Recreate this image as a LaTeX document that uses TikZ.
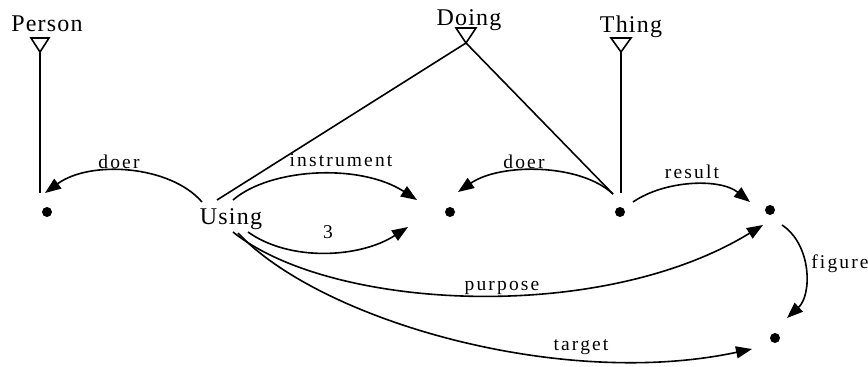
\documentclass[tikz,border=0pt]{standalone}
\usepackage{fontspec}
\setmainfont{Liberation Serif}
\newfontfamily\lblfont[LetterSpace=11]{Liberation Serif}
\newfontfamily\typfont[LetterSpace=5]{Liberation Serif}
\usetikzlibrary{arrows.meta}
\begin{document}
\begin{tikzpicture}[x=1pt,y=-1pt,
  conn/.style={line width=1.6pt},
  arr/.style={line width=1.6pt,-{Triangle[length=16pt,width=12pt]}},
  dotnode/.style={circle,fill=black,inner sep=0pt,minimum size=10pt},
  lbl/.style={anchor=base,inner sep=0pt,font=\lblfont\fontsize{19.5}{21}\selectfont},
  typ/.style={anchor=base,inner sep=0pt,font=\typfont\fontsize{24}{26}\selectfont},
  tri/.style={line width=1.6pt,fill=white}]
\useasboundingbox (0,0) rectangle (868,367);
% type labels
\node[typ] (person) at (47,31) {Person};
\node[typ] (doing) at (469,25) {Doing};
\node[typ] (thing) at (631,32) {Thing};
\node[typ] (using) at (231,224) {Using};
% dots
\node[dotnode] (dA) at (47,212) {};
\node[dotnode] (dB) at (450,212) {};
\node[dotnode] (dC) at (620,212) {};
\node[dotnode] (dD) at (770,210) {};
\node[dotnode] (dE) at (775,338) {};
% triangle apexes
\coordinate (pTri) at (40,52);
\coordinate (dTri) at (466,43);
\coordinate (tTri) at (621,52);
% attach points
\coordinate (dAtop) at (40,193);
\coordinate (dAin) at (45,193);
\coordinate (uL) at (202,202);
\coordinate (uT) at (217,200);
\coordinate (uR) at (233,200);
\coordinate (uB1) at (248,232);
\coordinate (uB2) at (233,232);
\coordinate (uB3) at (238,233);
\coordinate (dBin1) at (417,200);
\coordinate (dBin2) at (408,227);
\coordinate (dBin3) at (458,192);
\coordinate (dCtop) at (621,193);
\coordinate (dCl) at (613,194);
\coordinate (dCr) at (633,202);
\coordinate (dDin1) at (750,202);
\coordinate (dDin2) at (763,225);
\coordinate (dDout) at (782,225);
\coordinate (dEin1) at (787,318);
\coordinate (dEin2) at (752,349);
% triangles
\draw[tri] (pTri) -- ++(-9,-14) -- ++(18,0) -- cycle;
\draw[tri] (dTri) -- ++(-10,-15) -- ++(20,0) -- cycle;
\draw[tri] (tTri) -- ++(-10,-14) -- ++(20,0) -- cycle;
% type lines
\draw[conn] (pTri) -- (dAtop);
\draw[conn] (dTri) -- (uT);
\draw[conn] (dTri) -- (dCl);
\draw[conn] (tTri) -- (dCtop);
% arrows
\draw[arr] (uL) .. controls (170,165) and (90,160) .. (dAin);
\draw[arr] (uR) .. controls (270,168) and (360,163) .. (dBin1);
\draw[arr] (uB1) .. controls (290,262) and (360,258) .. (dBin2);
\draw[arr] (uB2) .. controls (330,310) and (600,325) .. (dDin2);
\draw[arr] (uB3) .. controls (320,320) and (560,390) .. (dEin2);
\draw[arr] (dCl) .. controls (580,163) and (500,163) .. (dBin3);
\draw[arr] (dCr) .. controls (665,180) and (720,178) .. (dDin1);
\draw[arr] (dDout) .. controls (812,245) and (812,295) .. (dEin1);
% relation labels
\node[lbl] (lDoer1) at (119,168) {doer};
\node[lbl] (lInstr) at (341,166) {instrument};
\node[lbl] (l3) at (328,238) {3};
\node[lbl] (lDoer2) at (524,168) {doer};
\node[lbl] (lResult) at (692,178) {result};
\node[lbl] (lPurpose) at (502,290) {purpose};
\node[lbl] (lTarget) at (581,350) {target};
\node[lbl] (lFigure) at (840,268) {figure};
\end{tikzpicture}
\end{document}
